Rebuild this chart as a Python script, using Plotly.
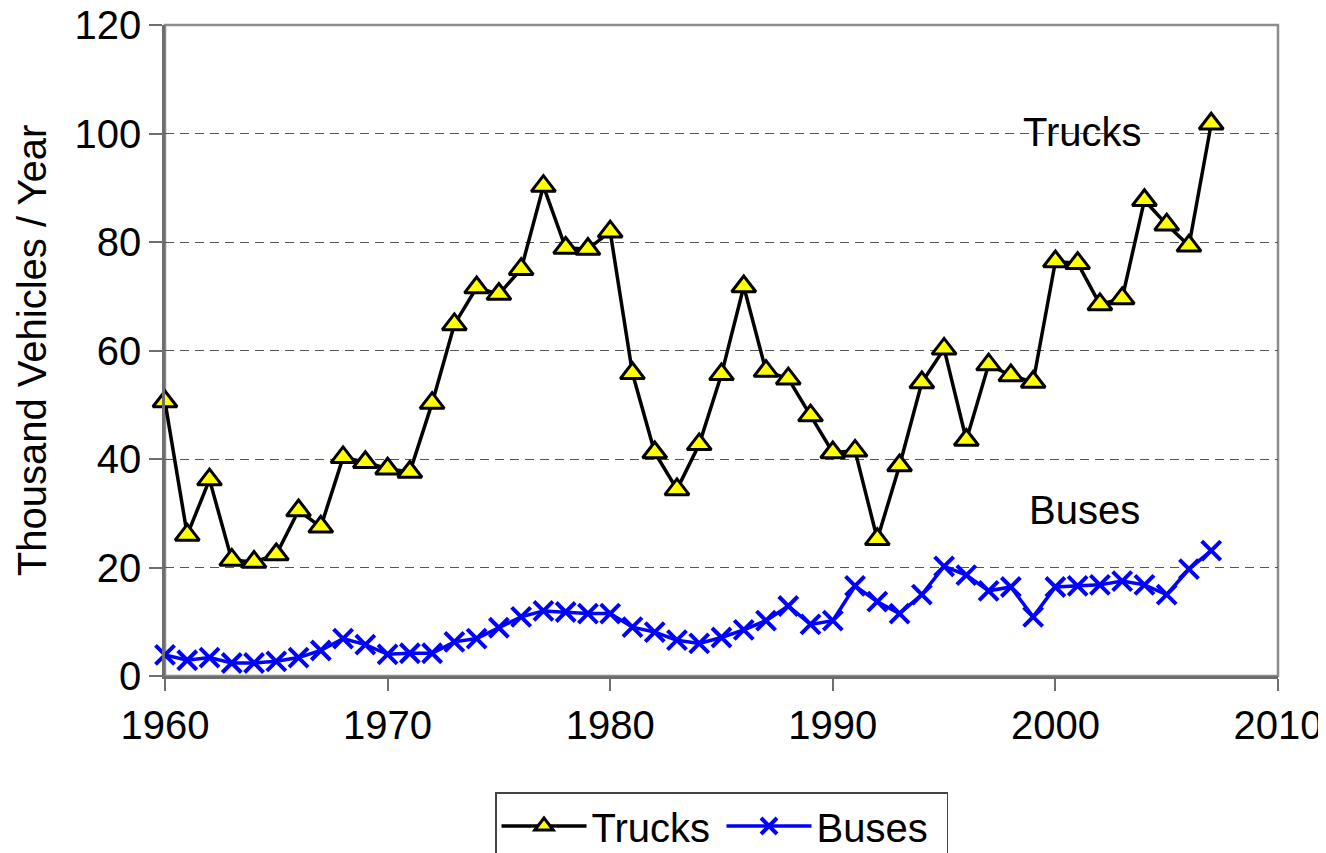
import plotly.graph_objects as go

# Annual production, thousand vehicles per year
years = list(range(1960, 2008))

trucks = [
    50.6, 26.0, 36.2, 21.4, 21.0, 22.4, 30.5, 27.5, 40.3, 39.4,
    38.2, 37.6, 50.3, 64.8, 71.6, 70.4, 75.0, 90.3, 78.9, 78.7,
    81.9, 55.8, 41.2, 34.4, 42.7, 55.6, 71.8, 56.2, 54.8, 48.0,
    41.2, 41.5, 25.2, 38.8, 54.1, 60.3, 43.5, 57.4, 55.4, 54.2,
    76.4, 76.1, 68.5, 69.6, 87.7, 83.2, 79.3, 101.8,
]

buses = [
    3.9, 2.9, 3.4, 2.4, 2.4, 2.7, 3.4, 4.7, 6.9, 5.8,
    4.0, 4.2, 4.2, 6.3, 6.9, 8.9, 10.9, 12.0, 11.8, 11.5,
    11.5, 9.0, 8.1, 6.6, 6.0, 7.1, 8.5, 10.2, 12.9, 9.5,
    10.2, 16.6, 13.7, 11.5, 15.0, 20.2, 18.6, 15.7, 16.4, 10.9,
    16.4, 16.6, 16.8, 17.5, 16.8, 15.0, 19.7, 23.1,
]

x_ticks = [1960, 1970, 1980, 1990, 2000, 2010]
y_ticks = [0, 20, 40, 60, 80, 100, 120]

# in-chart series labels: (text, year, value)
series_labels = [("Trucks", 2001.2, 100.3), ("Buses", 2001.3, 30.6)]

FONT = "Liberation Sans, Arial, sans-serif"
AXIS_GRAY = "#6e6e6e"
BOX_GRAY = "#8c8c8c"
FONT_SIZE = 40

# the page body adds an 8px offset, so the figure is 8px smaller than the window
FIG_W, FIG_H = 1318, 845

fig = go.Figure()

fig.add_trace(go.Scatter(
    x=years, y=trucks, name="Trucks", mode="lines+markers",
    line=dict(color="black", width=3.5),
    marker=dict(symbol="triangle-up", size=21, color="#ffff00",
                line=dict(color="black", width=3)),
    cliponaxis=False,
))

fig.add_trace(go.Scatter(
    x=years, y=buses, name="Buses", mode="lines+markers",
    line=dict(color="#0000ff", width=3.5),
    marker=dict(symbol="x-thin", size=19, color="#0000ff",
                line=dict(color="#0000ff", width=4)),
    cliponaxis=False,
))

for text, xv, yv in series_labels:
    fig.add_annotation(x=xv, y=yv, text=text, showarrow=False,
                       font=dict(family=FONT, size=FONT_SIZE, color="black"))

# grey frame round the plot area (top and right sides visible)
fig.add_shape(type="rect", xref="paper", yref="paper", x0=0, x1=1, y0=0, y1=1,
              line=dict(color=BOX_GRAY, width=2.5), layer="below")

fig.update_xaxes(
    range=[1960, 2010], tickvals=x_ticks, ticks="outside", ticklen=12,
    tickwidth=1.5, tickcolor=AXIS_GRAY, showline=True, linecolor=AXIS_GRAY,
    linewidth=2.5, showgrid=False, zeroline=False, automargin=False,
    ticklabeloverflow="allow",
    tickfont=dict(family=FONT, size=FONT_SIZE, color="black"),
)

fig.update_yaxes(
    range=[0, 120], tickvals=y_ticks, ticks="outside", ticklen=13,
    tickwidth=1.5, tickcolor=AXIS_GRAY, showline=True, linecolor=AXIS_GRAY,
    linewidth=2.5, showgrid=True, gridcolor="#555555", gridwidth=1,
    griddash="9px,6px", zeroline=False, automargin=False,
    ticklabeloverflow="allow",
    tickfont=dict(family=FONT, size=FONT_SIZE, color="black"),
    title=dict(text="Thousand Vehicles / Year",
               font=dict(family=FONT, size=FONT_SIZE, color="black"), standoff=16),
)

fig.update_layout(
    width=FIG_W, height=FIG_H,
    margin=dict(l=157, r=48, t=17, b=177, autoexpand=False),
    plot_bgcolor="white", paper_bgcolor="white",
    showlegend=True,
    legend=dict(
        orientation="h", x=0.5, xanchor="center",
        yref="container", y=1 - 784 / FIG_H, yanchor="top",
        bordercolor="#444444", borderwidth=1.5, bgcolor="white",
        font=dict(family=FONT, size=FONT_SIZE, color="black"),
        itemwidth=85, entrywidth=125,
    ),
)

fig.write_html("out.html")
